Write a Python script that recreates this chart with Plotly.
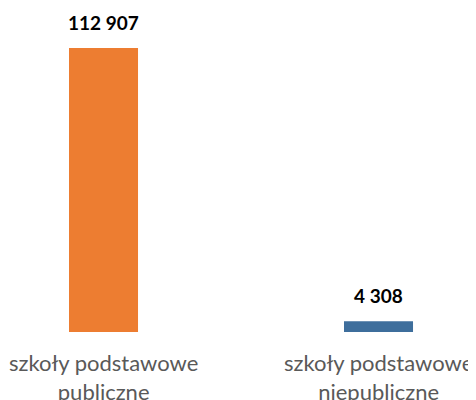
import plotly.graph_objects as go

categories = ["szkoły podstawowe<br>publiczne", "szkoły podstawowe<br>niepubliczne"]
values = [112907, 4308]
value_labels = ["112 907", "4 308"]
colors = ["#ED7D31", "#3E6E9C"]

xs = list(range(len(categories)))

fig = go.Figure()
fig.add_trace(go.Bar(
    x=xs, y=values, marker=dict(color=colors, line=dict(width=0)),
    width=0.251, hoverinfo="skip", showlegend=False,
))

for x, v, lab in zip(xs, values, value_labels):
    fig.add_annotation(x=x, y=v, xref="x", yref="y", text="<b>" + lab + "</b>",
                       showarrow=False, yanchor="bottom", yshift=12,
                       font=dict(family="Lato", size=19, color="#000000"))

for x, c in zip(xs, categories):
    fig.add_annotation(x=x, y=0, xref="x", yref="paper", text=c,
                       showarrow=False, yanchor="top", yshift=-15,
                       font=dict(family="Lato", size=22, color="#595959"))

# page body has an 8px margin; figure is sized/positioned to compensate
fig.update_layout(
    width=468, height=392,
    margin=dict(l=0, r=0, t=0, b=68),
    paper_bgcolor="white", plot_bgcolor="white",
    xaxis=dict(range=[-0.3473, 1.3545], visible=False, fixedrange=True),
    yaxis=dict(range=[0, 128807], visible=False, fixedrange=True),
)

fig.write_html("out.html")
